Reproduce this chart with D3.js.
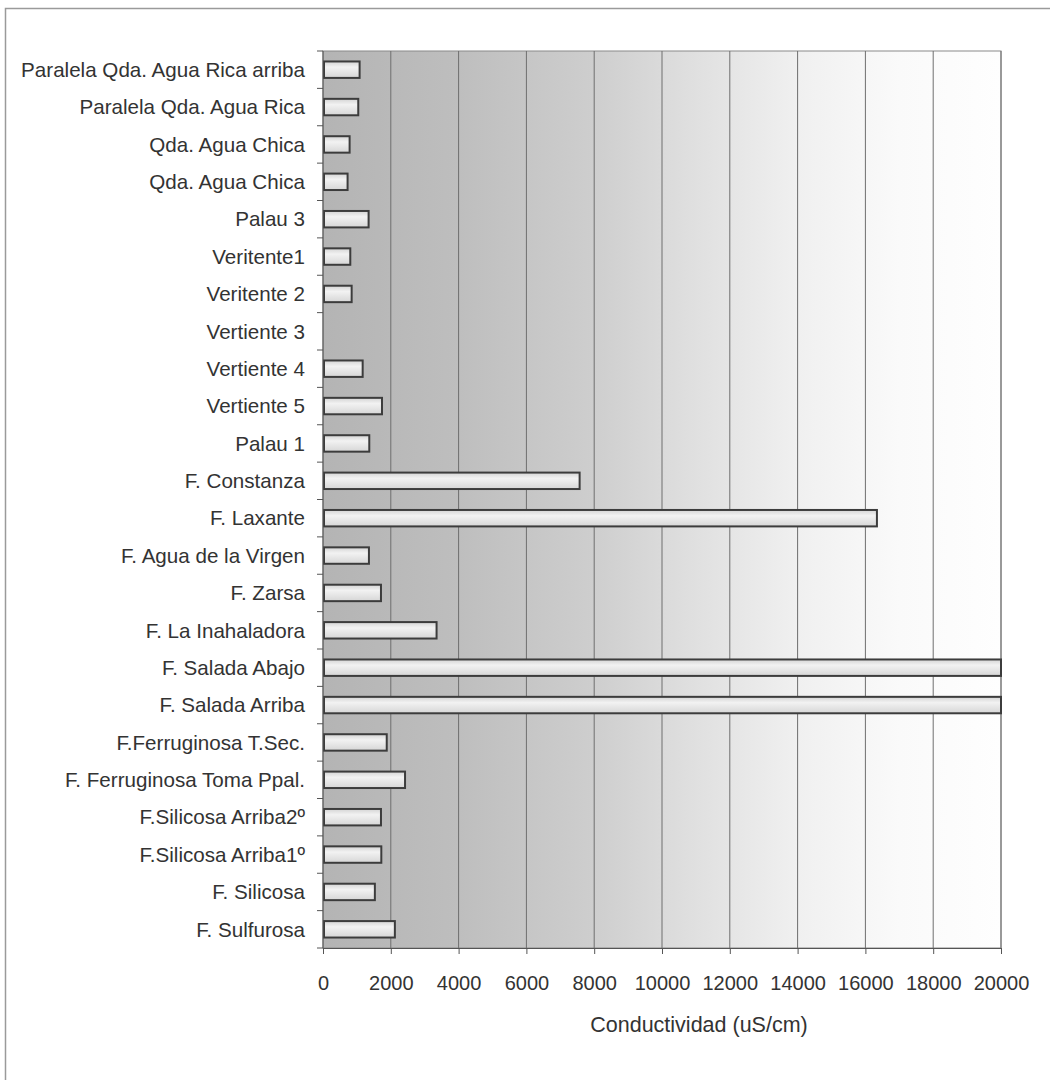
<!DOCTYPE html>
<html>
<head>
<meta charset="utf-8">
<script src="https://cdn.jsdelivr.net/npm/d3@7"></script>
<style>
  html, body { margin: 0; padding: 0; background: #fff; }
  svg { display: block; }
  text { font-family: "Liberation Sans", Arial, sans-serif; fill: #333; }
</style>
</head>
<body>
<svg id="chart" width="1050" height="1080"></svg>
<script>
// Sampling sites, top to bottom
const sites = [
  "Paralela Qda. Agua Rica arriba",
  "Paralela Qda. Agua Rica",
  "Qda. Agua Chica",
  "Qda. Agua Chica ",
  "Palau 3",
  "Veritente1",
  "Veritente 2",
  "Vertiente 3",
  "Vertiente 4",
  "Vertiente 5",
  "Palau 1",
  "F. Constanza",
  "F. Laxante",
  "F. Agua de la Virgen",
  "F. Zarsa",
  "F. La Inahaladora",
  "F. Salada Abajo",
  "F. Salada Arriba",
  "F.Ferruginosa T.Sec.",
  "F. Ferruginosa Toma Ppal.",
  "F.Silicosa Arriba2º",
  "F.Silicosa Arriba1º",
  "F. Silicosa",
  "F. Sulfurosa"
];

// Conductivity (uS/cm) per site
const conductivity = [
  1080, 1040, 785, 725, 1345, 805, 845, 0, 1170, 1740, 1365,
  7570, 16340, 1355, 1710, 3350, 20000, 20000,
  1880, 2420, 1710, 1720, 1530, 2120
];

const xTicks = [0, 2000, 4000, 6000, 8000, 10000, 12000, 14000, 16000, 18000, 20000];
const xTitle = "Conductividad (uS/cm)";

const svg = d3.select("#chart");
const plotL = 323, plotR = 1001, plotT = 51, plotB = 948;

const x = d3.scaleLinear().domain([0, 20000]).range([plotL, plotR]);
const y = d3.scaleBand().domain(sites).range([plotT, plotB]).paddingInner(0.56).paddingOuter(0.28);
const band = d3.scaleBand().domain(sites).range([plotT, plotB]);

const defs = svg.append("defs");
const bg = defs.append("linearGradient").attr("id", "bgGrad")
  .attr("x1", "0%").attr("x2", "100%").attr("y1", "0%").attr("y2", "0%");
[[0, "#b4b4b4"], [0.2, "#bebebe"], [0.4, "#cecece"], [0.55, "#e0e0e0"], [0.7, "#f0f0f0"], [0.85, "#fafafa"], [1, "#fefefe"]]
  .forEach(([o, c]) => bg.append("stop").attr("offset", o).attr("stop-color", c));

const barGrad = defs.append("linearGradient").attr("id", "barGrad")
  .attr("x1", "0%").attr("x2", "0%").attr("y1", "0%").attr("y2", "100%");
[[0, "#d4d4d4"], [0.35, "#f2f2f2"], [1, "#d6d6d6"]]
  .forEach(([o, c]) => barGrad.append("stop").attr("offset", o).attr("stop-color", c));

// outer frame (right and bottom edges run past the page)
svg.append("rect").attr("x", 5.5).attr("y", 8.5).attr("width", 1050).attr("height", 1080)
  .attr("fill", "#fff").attr("stroke", "#9a9a9a").attr("stroke-width", 1.5);

// plot area background
svg.append("rect").attr("x", plotL).attr("y", plotT).attr("width", plotR - plotL).attr("height", plotB - plotT)
  .attr("fill", "url(#bgGrad)").attr("stroke", "#8a8a8a").attr("stroke-width", 1);

// vertical gridlines
svg.append("g").selectAll("line").data(xTicks.slice(1)).join("line")
  .attr("x1", d => x(d)).attr("x2", d => x(d)).attr("y1", plotT).attr("y2", plotB)
  .attr("stroke", "#6e6e6e").attr("stroke-width", 1);

// bars
svg.append("g").selectAll("rect").data(sites.map((s, i) => ({ s, v: conductivity[i] })).filter(d => d.v > 0))
  .join("rect")
  .attr("x", x(0) + 1)
  .attr("y", d => y(d.s))
  .attr("width", d => Math.max(0, x(d.v) - x(0) - 1))
  .attr("height", y.bandwidth())
  .attr("fill", "url(#barGrad)")
  .attr("stroke", "#3c3c3c").attr("stroke-width", 2);

// y axis
const yAxis = svg.append("g").attr("transform", `translate(${plotL},0)`);
yAxis.append("line").attr("x1", 0).attr("x2", 0).attr("y1", plotT).attr("y2", plotB)
  .attr("stroke", "#555").attr("stroke-width", 1);
yAxis.selectAll("line.tick").data(d3.range(sites.length + 1)).join("line").attr("class", "tick")
  .attr("x1", -6).attr("x2", 0)
  .attr("y1", i => plotT + i * band.step()).attr("y2", i => plotT + i * band.step())
  .attr("stroke", "#555").attr("stroke-width", 1);
yAxis.selectAll("text").data(sites).join("text")
  .attr("x", -18)
  .attr("y", d => band(d) + band.bandwidth() / 2)
  .attr("dy", "0.35em")
  .attr("text-anchor", "end")
  .attr("font-size", 20.6)
  .text(d => d.trim());

// x axis
const xAxis = svg.append("g").attr("transform", `translate(0,${plotB})`)
  .call(d3.axisBottom(x).tickValues(xTicks).tickSize(6).tickPadding(22).tickFormat(d3.format("d")));
xAxis.select(".domain").attr("stroke", "#555");
xAxis.selectAll(".tick line").attr("stroke", "#555");
xAxis.selectAll(".tick text").attr("font-size", 20).attr("fill", "#333")
  .attr("font-family", "Liberation Sans, Arial, sans-serif");

svg.append("text").attr("x", 699).attr("y", 1032)
  .attr("text-anchor", "middle").attr("font-size", 21.5).text(xTitle);
</script>
</body>
</html>
